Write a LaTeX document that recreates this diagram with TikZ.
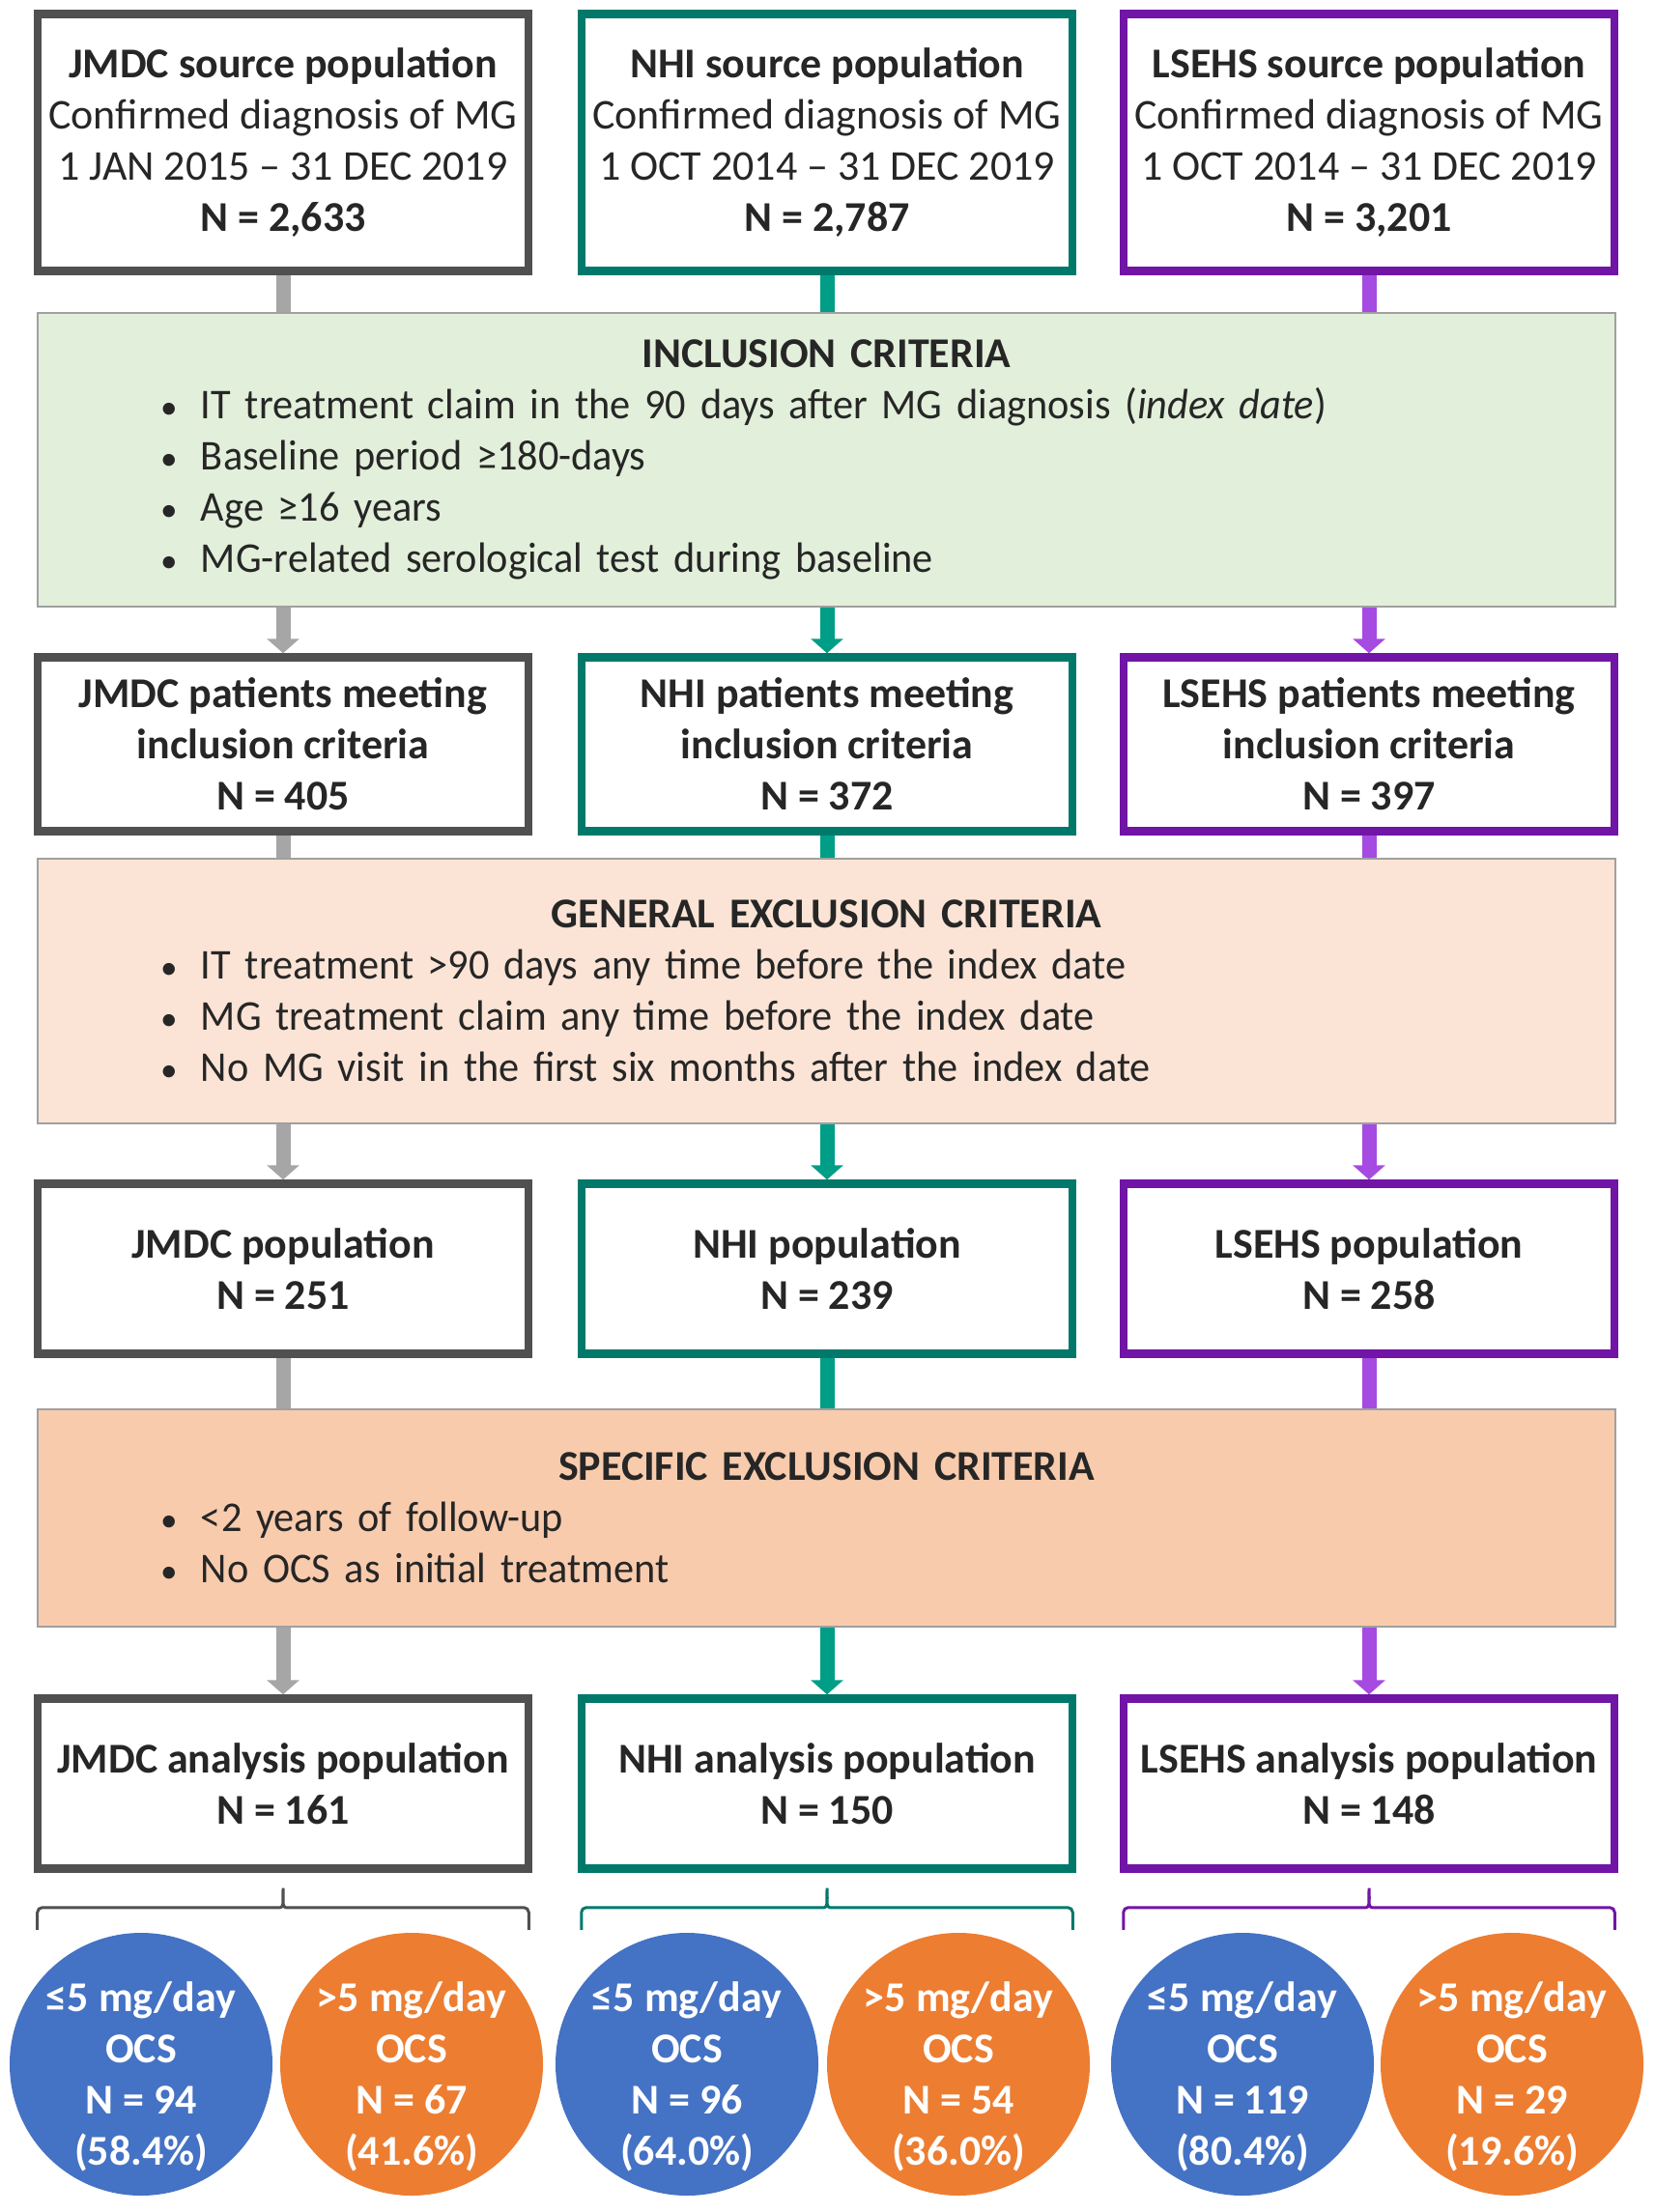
\documentclass[tikz,border=0pt]{standalone}
\usepackage{fontspec}
\setmainfont{Carlito}
\newfontfamily\critfont[FakeStretch=0.963]{Carlito}
\usetikzlibrary{arrows.meta,calc}

\definecolor{txt}{HTML}{262626}
\definecolor{jline}{HTML}{505050}
\definecolor{jstemc}{HTML}{A6A6A6}
\definecolor{nline}{HTML}{00796B}
\definecolor{nstemc}{HTML}{009E87}
\definecolor{lline}{HTML}{7015A5}
\definecolor{lstemc}{HTML}{A54BE1}
\definecolor{critdraw}{HTML}{A0A0A0}
\definecolor{inclfill}{HTML}{E2EFDA}
\definecolor{genfill}{HTML}{FBE4D5}
\definecolor{specfill}{HTML}{F8CBAD}
\definecolor{lowblue}{HTML}{4472C4}
\definecolor{highorange}{HTML}{ED7D31}

\newcommand{\crithead}[1]{{\centering\bfseries #1\par}}
\newcommand{\critline}[1]{\hspace*{12.7mm}\makebox[4.2mm][l]{{\fontsize{10}{10}\selectfont\textbullet}}{\critfont #1}\par}
\newcommand{\dosetext}[4]{\rule{0pt}{5.6mm}#1 mg/day\\OCS\\N = #2\\(#3\%)#4}

\begin{document}
\begin{tikzpicture}[
  font=\fontsize{12.5}{15.1}\selectfont, text=txt,
  popbox/.style={draw, line width=0.85mm, fill=white, minimum width=5.08cm, inner sep=0pt, align=center},
  jbox/.style={popbox, draw=jline},
  nbox/.style={popbox, draw=nline},
  lbox/.style={popbox, draw=lline},
  critbox/.style={draw=critdraw, line width=0.2mm, minimum width=16.33cm, text width=16.33cm, inner xsep=0pt, align=left},
  jstem/.style={draw=jstemc, line width=1.5mm},
  nstem/.style={draw=nstemc, line width=1.5mm},
  lstem/.style={draw=lstemc, line width=1.5mm},
  tip/.style={-{Triangle[width=3.3mm,length=1.5mm]}},
  ocs/.style={circle, minimum size=2.72cm, inner sep=-4mm, text=white, align=center, font=\fontsize{12.5}{15.1}\selectfont\bfseries},
  lowdose/.style={ocs, fill=lowblue},
  highdose/.style={ocs, fill=highorange},
  bracel/.style={line width=0.3mm, rounded corners=0.5mm}
]
\useasboundingbox (0,0) rectangle (17.13,-22.90);

% source populations
\node[jbox, minimum height=2.66cm] (js) at (2.93,-1.475) {\textbf{JMDC source population}\\Confirmed diagnosis of MG\\1 JAN 2015 -- 31 DEC 2019\\\textbf{N = 2,633}};
\node[nbox, minimum height=2.66cm] (ns) at (8.56,-1.475) {\textbf{NHI source population}\\Confirmed diagnosis of MG\\1 OCT 2014 -- 31 DEC 2019\\\textbf{N = 2,787}};
\node[lbox, minimum height=2.66cm] (ls) at (14.17,-1.475) {\textbf{LSEHS source population}\\Confirmed diagnosis of MG\\1 OCT 2014 -- 31 DEC 2019\\\textbf{N = 3,201}};

% criteria
\node[critbox, fill=inclfill, minimum height=3.04cm] (incl) at (8.555,-4.76) {\crithead{INCLUSION CRITERIA}\critline{IT treatment claim in the 90 days after MG diagnosis (\textit{index date})}\critline{Baseline period ≥180-days}\critline{Age ≥16 years}\critline{MG-related serological test during baseline}};

\node[jbox, minimum height=1.8cm] (ji) at (2.93,-7.705) {\textbf{JMDC patients meeting}\\\textbf{inclusion criteria}\\\textbf{N = 405}};
\node[nbox, minimum height=1.8cm] (ni) at (8.56,-7.705) {\textbf{NHI patients meeting}\\\textbf{inclusion criteria}\\\textbf{N = 372}};
\node[lbox, minimum height=1.8cm] (li) at (14.17,-7.705) {\textbf{LSEHS patients meeting}\\\textbf{inclusion criteria}\\\textbf{N = 397}};

\node[critbox, fill=genfill, minimum height=2.74cm] (genex) at (8.555,-10.26) {\crithead{GENERAL EXCLUSION CRITERIA}\critline{IT treatment >90 days any time before the index date}\critline{MG treatment claim any time before the index date}\critline{No MG visit in the first six months after the index date}};

\node[jbox, minimum height=1.76cm] (jp) at (2.93,-13.135) {\textbf{JMDC population}\\\textbf{N = 251}};
\node[nbox, minimum height=1.76cm] (np) at (8.56,-13.135) {\textbf{NHI population}\\\textbf{N = 239}};
\node[lbox, minimum height=1.76cm] (lp) at (14.17,-13.135) {\textbf{LSEHS population}\\\textbf{N = 258}};

\node[critbox, fill=specfill, minimum height=2.25cm] (specex) at (8.555,-15.715) {\crithead{SPECIFIC EXCLUSION CRITERIA}\critline{<2 years of follow-up}\critline{No OCS as initial treatment}};

\node[jbox, minimum height=1.76cm] (ja) at (2.93,-18.465) {\textbf{JMDC analysis population}\\\textbf{N = 161}};
\node[nbox, minimum height=1.76cm] (na) at (8.56,-18.465) {\textbf{NHI analysis population}\\\textbf{N = 150}};
\node[lbox, minimum height=1.76cm] (la) at (14.17,-18.465) {\textbf{LSEHS analysis population}\\\textbf{N = 148}};

% OCS dose groups
\node[lowdose] (jlo) at (1.46,-21.37) {\dosetext{≤5}{94}{58.4}{}};
\node[highdose] (jhi) at (4.26,-21.37) {\dosetext{>5}{67}{41.6}{}};
\node[lowdose] (nlo) at (7.11,-21.37) {\dosetext{≤5}{96}{64.0}{}};
\node[highdose] (nhi) at (9.92,-21.37) {\dosetext{>5}{54}{36.0}{}};
\node[lowdose] (llo) at (12.86,-21.37) {\dosetext{≤5}{119}{80.4}{}};
\node[highdose] (lhi) at (15.65,-21.37) {\dosetext{>5}{29}{19.6}{}};

% connectors
\draw[jstem] (js.south) -- (js.south |- incl.north);
\draw[nstem] (ns.south) -- (ns.south |- incl.north);
\draw[lstem] (ls.south) -- (ls.south |- incl.north);
\draw[jstem, tip] (ji.north |- incl.south) -- (ji.north);
\draw[nstem, tip] (ni.north |- incl.south) -- (ni.north);
\draw[lstem, tip] (li.north |- incl.south) -- (li.north);
\draw[jstem] (ji.south) -- (ji.south |- genex.north);
\draw[nstem] (ni.south) -- (ni.south |- genex.north);
\draw[lstem] (li.south) -- (li.south |- genex.north);
\draw[jstem, tip] (jp.north |- genex.south) -- (jp.north);
\draw[nstem, tip] (np.north |- genex.south) -- (np.north);
\draw[lstem, tip] (lp.north |- genex.south) -- (lp.north);
\draw[jstem] (jp.south) -- (jp.south |- specex.north);
\draw[nstem] (np.south) -- (np.south |- specex.north);
\draw[lstem] (lp.south) -- (lp.south |- specex.north);
\draw[jstem, tip] (ja.north |- specex.south) -- (ja.north);
\draw[nstem, tip] (na.north |- specex.south) -- (na.north);
\draw[lstem, tip] (la.north |- specex.south) -- (la.north);

% braces
\draw[bracel, draw=jline] ($(ja.south west)+(0.04,-0.59)$) -- ++(0,0.23) -- ($(ja.south)+(-0.08,-0.36)$) to[out=0,in=-90] ++(0.08,0.23) to[out=-90,in=180] ++(0.08,-0.23) -- ($(ja.south east)+(-0.04,-0.36)$) -- ++(0,-0.23);
\draw[bracel, draw=nline] ($(na.south west)+(0.04,-0.59)$) -- ++(0,0.23) -- ($(na.south)+(-0.08,-0.36)$) to[out=0,in=-90] ++(0.08,0.23) to[out=-90,in=180] ++(0.08,-0.23) -- ($(na.south east)+(-0.04,-0.36)$) -- ++(0,-0.23);
\draw[bracel, draw=lline] ($(la.south west)+(0.04,-0.59)$) -- ++(0,0.23) -- ($(la.south)+(-0.08,-0.36)$) to[out=0,in=-90] ++(0.08,0.23) to[out=-90,in=180] ++(0.08,-0.23) -- ($(la.south east)+(-0.04,-0.36)$) -- ++(0,-0.23);
\end{tikzpicture}
\end{document}
